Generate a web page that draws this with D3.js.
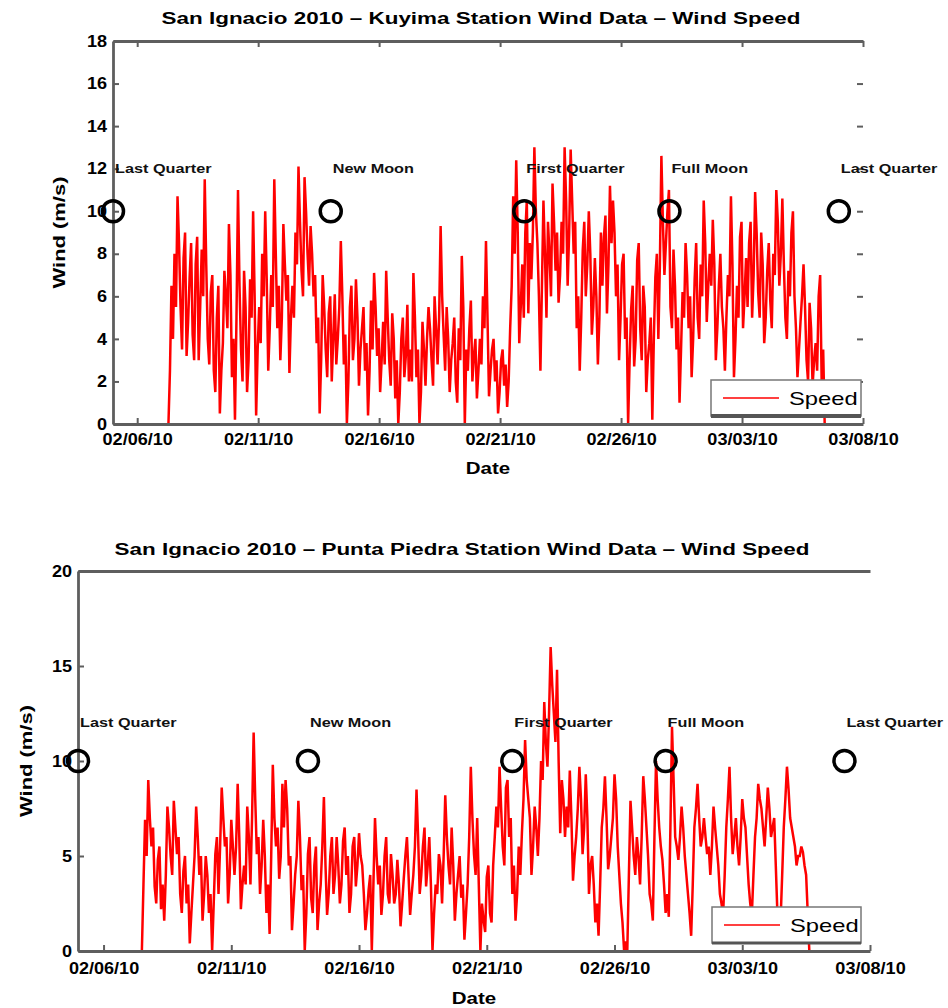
<!DOCTYPE html>
<html><head><meta charset="utf-8">
<script src="https://cdn.jsdelivr.net/npm/d3@7"></script>
<style>
body{margin:0;background:#fff}
svg{display:block;font-family:"Liberation Sans",Arial,Helvetica,sans-serif}
</style>
</head><body>
<svg id="chart" width="948" height="1008"></svg>
<script>
// ---------------- DATA ----------------
const stepMinutes = 90;
const kuyimaTitle = "San Ignacio 2010 – Kuyima Station Wind Data – Wind Speed";
const kuyimaStart = "2010-02-07T07:00";
const kuyimaSpeed = [
  0, 2.5, 6.5, 4.0, 8, 5.5, 10.7, 8.5, 5.5, 3.5, 7.8, 9.0, 3.2, 4.8, 6.9, 8.5,
  4.2, 3.0, 7.5, 8.8, 3.0, 5.5, 8.2, 6.0, 11.5, 7.5, 4.0, 2.8, 6.2, 7.0, 2.5, 1.5,
  5.0, 6.5, 0.5, 2.5, 3.8, 7.2, 6.0, 4.5, 9.4, 7.0, 2.2, 4.0, 0.2, 5.0, 11.0, 6.5,
  3.5, 2.0, 7.2, 5.5, 1.5, 3.0, 6.8, 5.0, 10.0, 6.0, 0.4, 3.5, 5.5, 3.8, 8.0, 6.0,
  10.0, 6.8, 2.5, 4.5, 7.0, 5.5, 11.5, 8.0, 4.5, 6.5, 3.0, 5.0, 9.4, 7.5, 5.8, 7.0,
  2.4, 5.0, 6.5, 5.0, 9.0, 7.5, 12.1, 9.5, 7.2, 6.0, 11.6, 10.0, 8.0, 6.5, 9.3, 8.0,
  6.0, 7.0, 3.8, 5.0, 0.5, 3.0, 7.0, 5.5, 3.5, 2.2, 5.2, 6.0, 2.0, 4.0, 6.1, 2.8,
  4.0, 5.5, 8.6, 6.0, 2.8, 4.2, 0.0, 2.0, 5.5, 6.5, 3.0, 4.0, 6.8, 5.0, 1.8, 3.5,
  4.5, 5.5, 2.5, 3.8, 0.4, 2.5, 5.8, 3.5, 7.1, 5.5, 3.2, 4.5, 1.5, 3.0, 4.8, 2.8,
  7.2, 5.0, 3.0, 1.8, 5.2, 4.0, 1.2, 3.0, 0.0, 1.5, 4.0, 5.0, 2.2, 3.2, 5.6, 2.0,
  3.5, 2.0, 7.1, 5.0, 2.2, 3.5, 0.0, 1.5, 4.8, 3.5, 1.8, 4.0, 5.5, 4.5, 3.0, 1.8,
  6.0, 4.5, 2.8, 5.0, 9.3, 6.0, 4.2, 2.5, 5.5, 4.0, 1.5, 3.0, 3.8, 5.0, 2.0, 1.0,
  4.5, 3.0, 7.9, 5.5, 0.0, 3.5, 2.5, 4.5, 5.8, 2.0, 3.2, 4.0, 1.2, 2.5, 4.0, 2.8,
  6.0, 4.5, 8.6, 5.0, 1.3, 2.5, 3.5, 4.0, 2.0, 3.0, 0.5, 1.5, 3.0, 3.5, 1.8, 2.8,
  0.8, 2.0, 4.5, 6.5, 10.7, 8.0, 12.4, 9.0, 3.8, 5.5, 7.5, 5.0, 9.0, 10.5, 5.2, 8.5,
  6.8, 9.0, 13.0, 10.0, 8.5, 6.0, 2.5, 6.5, 10.5, 8.0, 5.0, 9.5, 8.0, 6.0, 11.3, 9.5,
  7.2, 9.0, 5.7, 7.0, 9.5, 8.0, 13.0, 10.5, 6.5, 9.0, 12.9, 10.5, 8.0, 9.5, 4.5, 6.0,
  2.5, 5.0, 8.2, 9.5, 6.0, 7.5, 10.0, 8.0, 4.2, 5.5, 7.8, 6.0, 2.8, 5.0, 9.0, 6.5,
  8.8, 9.8, 5.2, 7.5, 11.2, 8.5, 10.5, 9.0, 6.0, 7.5, 3.0, 5.0, 7.5, 8.0, 4.0, 5.0,
  0.0, 3.0, 5.4, 6.5, 2.7, 4.0, 7.7, 8.5, 4.5, 3.0, 6.5, 5.5, 1.5, 3.0, 3.8, 5.0,
  0.2, 4.0, 6.9, 8.0, 4.0, 7.5, 12.6, 9.5, 7.0, 8.5, 10.0, 11.0, 5.5, 4.5, 8.2, 6.5,
  3.5, 5.0, 1.0, 3.5, 6.2, 5.0, 8.5, 7.0, 4.5, 6.0, 2.2, 4.0, 6.8, 8.5, 5.0, 4.0,
  7.5, 6.0, 10.5, 8.5, 4.8, 6.5, 8.0, 6.5, 9.6, 7.5, 3.0, 4.5, 6.5, 8.0, 5.5, 4.5,
  2.5, 5.0, 7.0, 6.0, 10.7, 7.5, 2.2, 4.0, 6.5, 5.0, 8.8, 9.5, 4.5, 6.0, 7.8, 5.5,
  8.5, 9.5, 5.0, 7.0, 10.9, 9.0, 6.2, 5.0, 9.0, 7.5, 3.8, 5.0, 7.2, 8.5, 5.8, 4.5,
  8.0, 7.0, 11.0, 9.5, 6.5, 8.0, 10.6, 7.5, 5.0, 4.0, 7.2, 6.0, 9.0, 10.0, 6.0, 4.5,
  2.2, 3.5, 4.8, 6.0, 7.5, 5.5, 3.0, 2.0, 5.7, 4.5, 1.8, 3.0, 3.8, 2.5, 6.0, 7.0,
  2.0, 3.5, 0.0
];
const kuyimaYTicks = [0, 2, 4, 6, 8, 10, 12, 14, 16, 18];

const puntaTitle = "San Ignacio 2010 – Punta Piedra Station Wind Data – Wind Speed";
const puntaStart = "2010-02-07T12:00";
const puntaSpeed = [
  0, 3.5, 6.9, 5.0, 9.0, 7.0, 5.5, 6.5, 3.4, 2.5, 4.8, 5.5, 2.2, 3.5, 1.6, 4.0,
  7.6, 6.5, 5.0, 4.0, 7.9, 6.5, 5.1, 6.0, 3.0, 2.0, 4.2, 5.0, 2.5, 3.5, 0.4, 2.0,
  3.5, 5.0, 7.6, 6.0, 4.0, 5.0, 1.6, 3.0, 5.0, 4.0, 2.0, 3.0, 0.0, 2.5, 5.1, 6.0,
  3.0, 5.5, 8.6, 7.0, 5.5, 6.0, 2.5, 4.0, 6.9, 5.5, 4.0, 5.5, 8.8, 6.0, 2.2, 3.5,
  4.5, 3.5, 7.6, 6.0, 3.5, 7.0, 11.5, 8.0, 5.1, 6.0, 3.0, 4.5, 6.9, 5.0, 2.0, 3.5,
  0.9, 5.0, 9.8, 7.0, 5.5, 6.5, 3.8, 5.0, 8.8, 6.5, 9.0, 7.5, 4.5, 5.0, 1.1, 2.5,
  4.0, 5.0, 7.9, 6.0, 3.2, 4.0, 0.0, 2.0, 5.1, 6.0, 2.8, 2.0, 4.5, 5.5, 1.1, 2.5,
  3.5, 5.5, 8.1, 4.5, 1.9, 3.0, 5.0, 6.0, 3.0, 4.0, 6.0, 4.5, 2.5, 3.5, 5.8, 6.5,
  4.0, 5.0, 2.0, 3.0, 5.5, 6.0, 3.4, 4.5, 6.2, 5.0, 4.5, 3.0, 1.1, 2.0, 3.2, 4.0,
  0.0, 3.5, 7.0, 5.0, 3.5, 4.5, 1.9, 3.0, 5.0, 6.0, 3.0, 2.5, 5.1, 4.0, 2.5, 3.0,
  4.8, 3.5, 1.3, 2.5, 3.8, 5.0, 6.0, 4.0, 1.9, 3.0, 4.0, 5.5, 8.5, 6.0, 3.0, 4.0,
  5.5, 6.5, 3.4, 4.5, 6.0, 3.5, 0.0, 2.0, 3.5, 3.0, 5.1, 4.5, 2.5, 5.0, 8.2, 6.0,
  4.5, 3.5, 6.5, 4.5, 1.6, 3.0, 4.0, 5.0, 2.8, 3.5, 0.6, 2.0, 3.5, 6.0, 9.7, 7.0,
  5.1, 4.0, 7.0, 3.5, 0.0, 2.5, 1.6, 1.0, 3.9, 4.5, 2.0, 1.5, 4.5, 6.0, 7.6, 6.5,
  9.7, 7.5, 5.5, 4.5, 8.6, 9.0, 6.0, 7.0, 3.0, 4.5, 1.6, 3.0, 5.5, 4.0, 6.2, 8.0,
  11.1, 9.0, 8.0, 7.0, 4.0, 5.5, 7.6, 6.5, 5.0, 7.0, 10.0, 9.0, 13.1, 11.0, 9.7, 12.5,
  16.0, 14.0, 12.5, 11.0, 14.8, 10.0, 6.2, 9.0, 8.0, 6.0, 7.6, 6.5, 9.5, 7.0, 3.7, 5.0,
  6.0, 7.5, 9.7, 8.0, 5.1, 6.5, 9.3, 7.0, 3.0, 4.5, 5.0, 3.5, 1.5, 2.5, 0.8, 3.5,
  6.5, 7.5, 9.2, 7.0, 4.3, 5.0, 6.0, 7.0, 9.3, 8.0, 5.5, 4.0, 2.5, 1.5, 0.0, 0.5,
  0.0, 4.0, 7.9, 6.5, 5.0, 4.0, 6.0, 5.0, 3.5, 6.0, 9.2, 8.0, 6.5, 5.0, 3.0, 2.5,
  1.6, 6.0, 10.0, 8.0, 6.5, 5.5, 4.8, 3.5, 2.0, 3.0, 1.8, 6.5, 11.8, 9.0, 6.0, 5.5,
  4.8, 6.0, 7.6, 6.5, 5.0, 4.0, 3.0, 2.0, 0.8, 3.5, 6.5, 7.5, 8.8, 7.0, 5.5, 6.0,
  7.0, 6.0, 5.1, 5.5, 4.0, 5.5, 7.6, 6.5, 5.5, 4.5, 3.0, 2.5, 1.9, 4.0, 6.5, 8.0,
  9.7, 7.0, 5.1, 6.0, 7.0, 5.5, 4.5, 6.0, 8.0, 7.0, 6.5, 5.0, 3.5, 2.5, 1.9, 4.0,
  6.0, 7.0, 8.8, 8.0, 7.5, 6.5, 5.5, 7.0, 8.6, 7.5, 6.0, 6.5, 7.0, 4.5, 2.0, 1.8,
  1.6, 4.0, 6.5, 8.0, 9.7, 8.5, 7.0, 6.5, 6.0, 5.5, 4.5, 5.0, 5.0, 5.5, 5.2, 4.5,
  4.0, 2.0, 0.0
];
const puntaYTicks = [0, 5, 10, 15, 20];

const xDomainDates = ["2010-02-05", "2010-03-08"];
const xTickDates = ["2010-02-06", "2010-02-11", "2010-02-16", "2010-02-21", "2010-02-26", "2010-03-03", "2010-03-08"];
const moonDates = ["2010-02-05", "2010-02-14", "2010-02-22", "2010-02-28", "2010-03-07"];
const moonLabels = ["Last Quarter", "New Moon", "First Quarter", "Full Moon", "Last Quarter"];
const moonLevel = 10;
const moonLabelLevel = 12;
const seriesName = "Speed";
const xLabel = "Date";
const yLabel = "Wind (m/s)";

// ---------------- DRAWING ----------------
const parseDay = d3.timeParse("%Y-%m-%d");
const parseDT = d3.timeParse("%Y-%m-%dT%H:%M");
const fmt = d3.timeFormat("%m/%d/%y");
const svg = d3.select("#chart");
svg.append("rect").attr("width", 948).attr("height", 1008).attr("fill", "#fff");

const AXC = "#5e5e5e";

function stretchText(sel, sx) {
  sel.each(function () {
    const t = d3.select(this);
    const x = +t.attr("x") || 0;
    const y = +t.attr("y") || 0;
    t.attr("x", 0).attr("y", 0)
     .attr("transform", `translate(${x},${y}) scale(${sx},1)`);
  });
}

function panel(cfg) {
  const g = svg.append("g");
  const x = d3.scaleTime().domain(xDomainDates.map(parseDay)).range([cfg.l, cfg.r]);
  const y = d3.scaleLinear().domain([0, cfg.ymax]).range([cfg.b, cfg.t]);
  const ticksX = xTickDates.map(parseDay);

  // data
  const start = parseDT(cfg.start);
  const pts = cfg.values.map((v, i) => ({ t: d3.timeMinute.offset(start, i * stepMinutes), v }));
  g.append("path").datum(pts)
    .attr("d", d3.line().x(d => x(d.t)).y(d => y(d.v)))
    .attr("fill", "none").attr("stroke", "#ff0000").attr("stroke-width", 2.5)
    .attr("stroke-linejoin", "miter").attr("stroke-miterlimit", 3);

  // bottom axis
  const ax = g.append("g").attr("transform", `translate(0,${cfg.b})`)
    .call(d3.axisBottom(x).tickValues(ticksX).tickFormat(fmt).tickSizeInner(-6).tickSizeOuter(0).tickPadding(cfg.xPad));
  // top axis
  const at = g.append("g").attr("transform", `translate(0,${cfg.t})`)
    .call(d3.axisTop(x).tickValues(ticksX).tickFormat("").tickSizeInner(cfg.topTicks ? -6 : 0).tickSizeOuter(0));
  // left axis
  const al = g.append("g").attr("transform", `translate(${cfg.l},0)`)
    .call(d3.axisLeft(y).tickValues(cfg.yTicks).tickSizeInner(-6).tickSizeOuter(0).tickPadding(6));
  // right ticks (no line)
  if (cfg.rightTicks) {
    const ar = g.append("g").attr("transform", `translate(${cfg.r},0)`)
      .call(d3.axisRight(y).tickValues(cfg.yTicks).tickFormat("").tickSizeInner(-6).tickSizeOuter(0));
    ar.select(".domain").remove();
    ar.selectAll("line").attr("stroke", AXC).attr("stroke-width", 2);
  }
  [ax, at, al].forEach(a => {
    a.select(".domain").attr("stroke", AXC).attr("stroke-width", 2.8);
    a.selectAll(".tick line").attr("stroke", AXC).attr("stroke-width", 2);
    a.selectAll("text").attr("fill", "#000").attr("font-size", 16).attr("font-weight", "bold")
      .attr("font-family", '"Liberation Sans",Arial,sans-serif');
  });
  stretchText(ax.selectAll("text"), 1.13);
  stretchText(al.selectAll("text"), 1.13);

  // moon phases
  const mg = g.append("g");
  mg.selectAll("circle").data(moonDates).join("circle")
    .attr("cx", d => x(parseDay(d))).attr("cy", y(moonLevel)).attr("r", 10.5)
    .attr("fill", "none").attr("stroke", "#000").attr("stroke-width", 3.5);
  mg.selectAll("text").data(moonDates).join("text")
    .attr("x", d => x(parseDay(d)) + 2).attr("y", y(moonLabelLevel) + 4)
    .attr("font-size", 12.5).attr("font-weight", "bold").attr("fill", "#111")
    .text((d, i) => moonLabels[i])
    .call(s => stretchText(s, 1.3));

  // legend
  const lg = g.append("g");
  lg.append("rect").attr("x", cfg.leg.x).attr("y", cfg.leg.y).attr("width", cfg.leg.w).attr("height", cfg.leg.h)
    .attr("fill", "#fff").attr("stroke", "#777").attr("stroke-width", 1.5);
  lg.append("line").attr("x1", cfg.leg.x).attr("x2", cfg.leg.x + cfg.leg.w)
    .attr("y1", cfg.leg.y + cfg.leg.h).attr("y2", cfg.leg.y + cfg.leg.h)
    .attr("stroke", "#555").attr("stroke-width", cfg.leg.bw);
  lg.append("line").attr("x1", cfg.leg.x + 12).attr("x2", cfg.leg.x + 68)
    .attr("y1", cfg.leg.y + cfg.leg.h / 2).attr("y2", cfg.leg.y + cfg.leg.h / 2)
    .attr("stroke", "#ff0000").attr("stroke-width", 1.5);
  lg.append("text").attr("x", cfg.leg.x + 78).attr("y", cfg.leg.y + cfg.leg.h / 2 + 7)
    .attr("font-size", 19).attr("fill", "#000").text(seriesName)
    .call(s => stretchText(s, 1.25));

  // title
  g.append("text").attr("x", cfg.titleX).attr("y", cfg.titleY)
    .attr("text-anchor", "middle").attr("font-size", 17).attr("font-weight", "bold").text(cfg.title)
    .call(s => stretchText(s, 1.32));
  // x label
  g.append("text").attr("x", (cfg.l + cfg.r) / 2).attr("y", cfg.xLabY)
    .attr("text-anchor", "middle").attr("font-size", 16).attr("font-weight", "bold").text(xLabel)
    .call(s => stretchText(s, 1.28));
  // y label
  g.append("text").attr("transform", `translate(${cfg.yLabX},${(cfg.t + cfg.b) / 2}) rotate(-90)`)
    .attr("text-anchor", "middle").attr("dy", "0.35em").attr("font-size", 17).attr("font-weight", "bold")
    .attr("textLength", 112).attr("lengthAdjust", "spacingAndGlyphs")
    .text(yLabel);
}

panel({
  l: 113, r: 863, t: 41, b: 424, ymax: 18, yTicks: kuyimaYTicks,
  start: kuyimaStart, values: kuyimaSpeed, xPad: 10, topTicks: true, rightTicks: true,
  leg: { x: 711, y: 380, w: 150, h: 36, bw: 4 },
  title: kuyimaTitle, titleX: 481, titleY: 24, xLabY: 474, yLabX: 59
});
panel({
  l: 78, r: 870, t: 571, b: 951, ymax: 20, yTicks: puntaYTicks,
  start: puntaStart, values: puntaSpeed, xPad: 12, topTicks: false, rightTicks: false,
  leg: { x: 712, y: 907, w: 149, h: 36, bw: 3 },
  title: puntaTitle, titleX: 462, titleY: 555, xLabY: 1004, yLabX: 26
});
</script>
</body></html>
